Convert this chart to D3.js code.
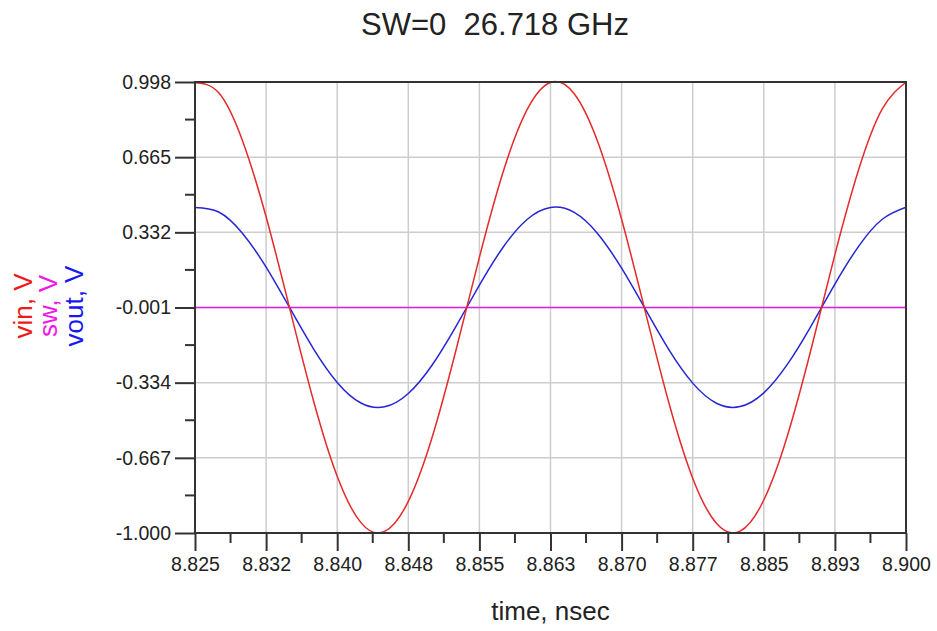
<!DOCTYPE html>
<html>
<head>
<meta charset="utf-8">
<script src="https://cdn.jsdelivr.net/npm/d3@7"></script>
<style>
  html, body { margin: 0; padding: 0; background: #fff; }
  svg { display: block; font-family: "Liberation Sans", Arial, sans-serif; }
</style>
</head>
<body>
<div id="chart"></div>
<script>
// values (time in nsec, voltages in V)
const timeNs = [
  8.8250, 8.8275, 8.8300, 8.8325, 8.8350, 8.8375, 8.8400, 8.8425, 8.8450, 8.8475,
  8.8500, 8.8525, 8.8550, 8.8575, 8.8600, 8.8625, 8.8650, 8.8675, 8.8700, 8.8725,
  8.8750, 8.8775, 8.8800, 8.8825, 8.8850, 8.8875, 8.8900, 8.8925, 8.8950, 8.8975,
  8.9000
];
const vin = [
  0.995, 0.950, 0.739, 0.401, -0.007, -0.414, -0.749, -0.954, -0.993, -0.860,
  -0.578, -0.195, 0.221, 0.599, 0.873, 0.996, 0.946, 0.731, 0.390, -0.019,
  -0.425, -0.757, -0.957, -0.992, -0.854, -0.568, -0.184, 0.233, 0.609, 0.879,
  0.997
];
const vout = [
  0.442, 0.422, 0.328, 0.178, -0.003, -0.184, -0.333, -0.424, -0.441, -0.382,
  -0.257, -0.087, 0.098, 0.266, 0.388, 0.442, 0.420, 0.325, 0.173, -0.008,
  -0.189, -0.336, -0.425, -0.440, -0.379, -0.252, -0.082, 0.103, 0.270, 0.390,
  0.443
];
const sw = [
  -0.001, -0.001, -0.001, -0.001, -0.001, -0.001, -0.001, -0.001, -0.001, -0.001,
  -0.001, -0.001, -0.001, -0.001, -0.001, -0.001, -0.001, -0.001, -0.001, -0.001,
  -0.001, -0.001, -0.001, -0.001, -0.001, -0.001, -0.001, -0.001, -0.001, -0.001,
  -0.001
];

const xTicks = [8.825, 8.8325, 8.840, 8.8475, 8.855, 8.8625, 8.870, 8.8775, 8.885, 8.8925, 8.900];
const xTickLabels = ["8.825", "8.832", "8.840", "8.848", "8.855", "8.863", "8.870", "8.877", "8.885", "8.893", "8.900"];
const yTicks = [0.998, 0.665, 0.332, -0.001, -0.334, -0.667, -1.000];
const yTickLabels = ["0.998", "0.665", "0.332", "-0.001", "-0.334", "-0.667", "-1.000"];

const W = 937, H = 631;
const M = { left: 195, right: 906, top: 82, bottom: 533 };
const AXIS = "#333";
const GRID = "#cdcdcd";

const svg = d3.select("#chart").append("svg")
  .attr("width", W)
  .attr("height", H);

const x = d3.scaleLinear().domain([8.825, 8.900]).range([M.left, M.right]);
const y = d3.scaleLinear().domain([-1.000, 0.998]).range([M.bottom, M.top]);

// grid
svg.append("g").selectAll("line")
  .data(xTicks.slice(1, -1))
  .join("line")
  .attr("x1", d => x(d)).attr("x2", d => x(d))
  .attr("y1", M.top).attr("y2", M.bottom)
  .attr("stroke", GRID).attr("stroke-width", 1.5);

svg.append("g").selectAll("line")
  .data(yTicks.slice(1, -1))
  .join("line")
  .attr("x1", M.left).attr("x2", M.right)
  .attr("y1", d => y(d)).attr("y2", d => y(d))
  .attr("stroke", GRID).attr("stroke-width", 1.5);

// minor tick positions = midpoints between major ticks
const xMinor = d3.pairs(xTicks).map(([a, b]) => (a + b) / 2);
const yMinor = d3.pairs(yTicks).map(([a, b]) => (a + b) / 2);

// left axis
const yAxis = svg.append("g")
  .attr("transform", `translate(${M.left},0)`)
  .call(d3.axisLeft(y).tickValues(yTicks).tickSize(20).tickPadding(4)
    .tickFormat((d, i) => yTickLabels[i]));
yAxis.select(".domain").remove();
yAxis.selectAll(".tick line").attr("stroke", AXIS).attr("stroke-width", 2);
yAxis.selectAll(".tick text")
  .attr("fill", "#222").attr("font-size", 19.5);
svg.append("g").selectAll("line")
  .data(yMinor)
  .join("line")
  .attr("x1", M.left - 10).attr("x2", M.left)
  .attr("y1", d => y(d)).attr("y2", d => y(d))
  .attr("stroke", AXIS).attr("stroke-width", 2);

// bottom axis
const xAxis = svg.append("g")
  .attr("transform", `translate(0,${M.bottom})`)
  .call(d3.axisBottom(x).tickValues(xTicks).tickSize(18).tickPadding(6)
    .tickFormat((d, i) => xTickLabels[i]));
xAxis.select(".domain").remove();
xAxis.selectAll(".tick line").attr("stroke", AXIS).attr("stroke-width", 2);
xAxis.selectAll(".tick text")
  .attr("fill", "#222").attr("font-size", 19.5);
svg.append("g").selectAll("line")
  .data(xMinor)
  .join("line")
  .attr("x1", d => x(d)).attr("x2", d => x(d))
  .attr("y1", M.bottom).attr("y2", M.bottom + 10)
  .attr("stroke", AXIS).attr("stroke-width", 2);

// series
const series = [
  { name: "sw", values: sw, color: "#e020e0" },
  { name: "vout", values: vout, color: "#2626d4" },
  { name: "vin", values: vin, color: "#e42a2a" }
];
const line = d3.line()
  .x((d, i) => x(timeNs[i]))
  .y(d => y(d))
  .curve(d3.curveNatural);

const plot = svg.append("g");
plot.selectAll("path")
  .data(series)
  .join("path")
  .attr("d", d => line(d.values))
  .attr("fill", "none")
  .attr("stroke", d => d.color)
  .attr("stroke-width", 1.5);

// frame
svg.append("rect")
  .attr("x", M.left).attr("y", M.top)
  .attr("width", M.right - M.left).attr("height", M.bottom - M.top)
  .attr("fill", "none").attr("stroke", AXIS).attr("stroke-width", 2);

// title
svg.append("text")
  .attr("x", 495).attr("y", 35)
  .attr("text-anchor", "middle")
  .attr("font-size", 31)
  .attr("fill", "#222")
  .style("white-space", "pre")
  .text("SW=0  26.718 GHz");

// x label
svg.append("text")
  .attr("x", (M.left + M.right) / 2).attr("y", 620)
  .attr("text-anchor", "middle")
  .attr("font-size", 26)
  .attr("fill", "#222")
  .text("time, nsec");

// y labels (stacked, rotated)
const yLabels = [
  { text: "vin, V", color: "#f01818", x: 32 },
  { text: "sw, V", color: "#f018e6", x: 57 },
  { text: "vout, V", color: "#1818f0", x: 83 }
];
svg.append("g").selectAll("text")
  .data(yLabels)
  .join("text")
  .attr("transform", d => `translate(${d.x},306) rotate(-90)`)
  .attr("text-anchor", "middle")
  .attr("font-size", 26)
  .attr("fill", d => d.color)
  .text(d => d.text);
</script>
</body>
</html>
